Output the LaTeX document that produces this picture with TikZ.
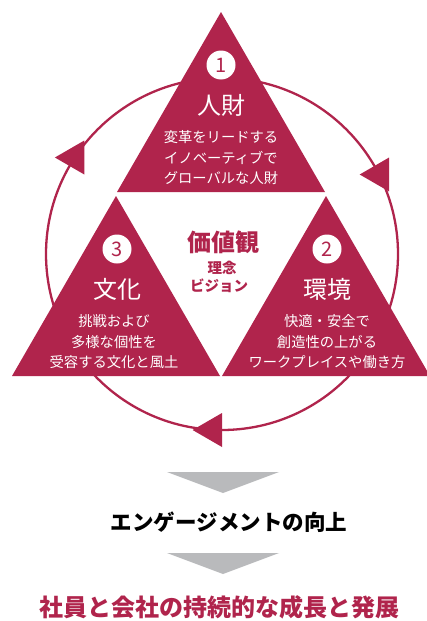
\documentclass[tikz,border=0pt]{standalone}
\usepackage{fontspec}
\newfontfamily\jp{Noto Sans CJK JP}
\usetikzlibrary{calc}
\definecolor{accent}{RGB}{176,36,76}
\definecolor{arrowgray}{RGB}{185,186,188}
\begin{document}
\begin{tikzpicture}[x=1pt,y=-1pt,
  tri/.style={fill=accent},
  cyclehead/.style={fill=accent},
  ring/.style={draw=accent,line width=2.3pt},
  numdisc/.style={circle,fill=white,minimum size=29pt,inner sep=0pt,text=accent,font=\jp\fontsize{20}{20}\selectfont},
  titletext/.style={text=white,inner sep=0pt,font=\jp\fontsize{24}{24}\selectfont},
  bodytext/.style={text=white,align=center,inner sep=0pt,font=\jp\fontsize{14.3}{20.5}\selectfont},
  valuetext/.style={text=accent,inner sep=0pt,font=\jp\bfseries\fontsize{24}{24}\selectfont},
  valuesub/.style={text=accent,inner sep=0pt,font=\jp\bfseries\fontsize{14.5}{14.5}\selectfont},
  grayhead/.style={fill=arrowgray},
  outtext/.style={inner sep=0pt,font=\jp\bfseries\fontsize{21.5}{21.5}\selectfont},
  goaltext/.style={text=accent,inner sep=0pt,font=\jp\bfseries\fontsize{24}{24}\selectfont}]
\fill[white] (0,0) rectangle (426,621);
\useasboundingbox (0,0) rectangle (426,621);

% cycle ring
\coordinate (C) at (222,254);
\draw[ring] (C) circle (176);

% triangles
\fill[tri] (221,12) -- (325,192) -- (117,192) -- cycle;
\fill[tri] (116,196) -- (220,376) -- (12,376) -- cycle;
\fill[tri] (326,196) -- (430,376) -- (222,376) -- cycle;

% arrowheads on the ring (clockwise)
\fill[cyclehead] (84.3,140.5) -- (54.9,157.5) -- (84.3,174.5) -- cycle;
\fill[cyclehead] (389.1,191.5) -- (389.1,157.5) -- (359.7,174.5) -- cycle;
\fill[cyclehead] (192.6,430) -- (222,413) -- (222,447) -- cycle;

% top triangle
\node[numdisc] (n1) at (221,65) {1};
\node[titletext] (t1) at (221,105) {人財};
\node[bodytext] (b1) at (221,158) {変革をリードする\\イノベーティブで\\グローバルな人財};

% left triangle
\node[numdisc] (n3) at (117,249) {3};
\node[titletext] (t3) at (117,289) {文化};
\node[bodytext] (b3) at (114,342) {挑戦および\\多様な個性を\\受容する文化と風土};

% right triangle
\node[numdisc] (n2) at (327,249) {2};
\node[titletext] (t2) at (327,289) {環境};
\node[bodytext] (b2) at (327,342) {快適・安全で\\創造性の上がる\\ワークプレイスや働き方};

% centre
\node[valuetext] (v) at (223,242) {価値観};
\node[valuesub] (v1) at (222,268) {理念};
\node[valuesub] (v2) at (219,286) {ビジョン};

% downward flow
\fill[grayhead] (167,472) -- (279,472) -- (223,493) -- cycle;
\node[outtext] (eng) at (229,522) {エンゲージメントの向上};
\fill[grayhead] (167,553) -- (279,553) -- (223,574) -- cycle;
\node[goaltext] (goal) at (219,607) {社員と会社の持続的な成長と発展};
\end{tikzpicture}
\end{document}
